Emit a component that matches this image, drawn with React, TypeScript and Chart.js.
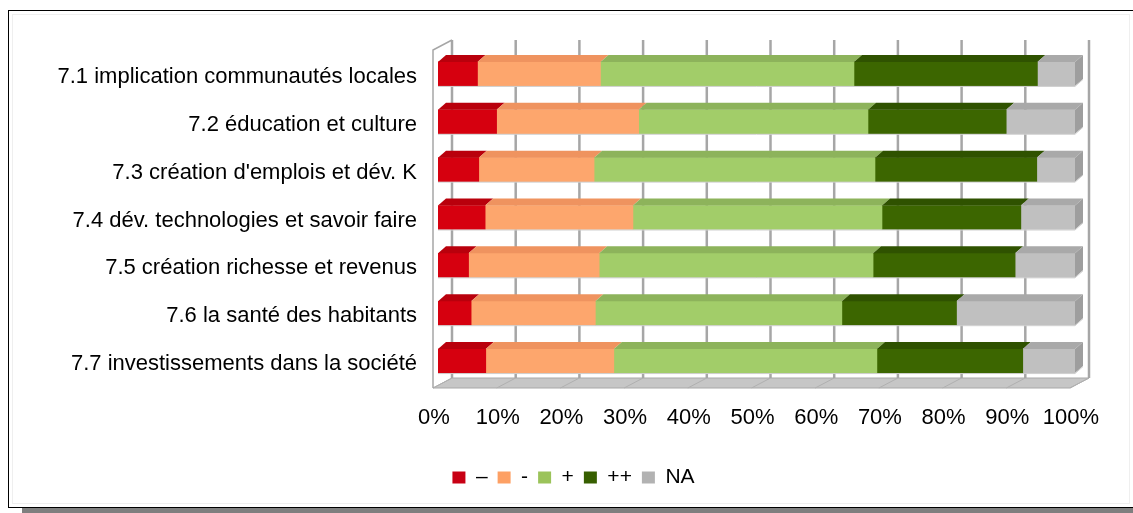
import React, { useEffect, useRef } from 'react';
import { Chart, registerables } from 'chart.js';

Chart.register(...registerables);

// ---------- data ----------
const CATEGORIES = [
  '7.1 implication communautés locales',
  '7.2 éducation et culture',
  "7.3 création d'emplois et dév. K",
  '7.4 dév. technologies et savoir faire',
  '7.5 création richesse et revenus',
  '7.6 la santé des habitants',
  '7.7 investissements dans la société',
];
const SERIES_NAMES = ['–', '-', '+', '++', 'NA'];
const VALUES_VERY_NEG = [6.2, 9.2, 6.4, 7.4, 4.8, 5.2, 7.5];
const VALUES_NEG = [19.3, 22.3, 18.1, 23.2, 20.5, 19.5, 20.1];
const VALUES_POS = [39.8, 36.0, 44.1, 39.1, 43.0, 38.7, 41.3];
const VALUES_VERY_POS = [28.8, 21.7, 25.4, 21.8, 22.3, 18.0, 22.9];
const VALUES_NA = [5.9, 10.8, 6.0, 8.5, 9.4, 18.6, 8.2];
const X_MIN = 0;
const X_MAX = 100;
const X_STEP = 10;

// ---------- styles ----------
const FRONT_COLORS = ['#d6000f', '#fda66d', '#a2cd69', '#3c6600', '#c0c0c0'];
const TOP_COLORS = ['#b9000c', '#ef935f', '#8db35b', '#2f5200', '#a9a9a9'];
const SIDE_COLOR = '#9e9e9e';
const LEGEND_COLORS = ['#c80014', '#fda064', '#9bc35a', '#375f00', '#b2b2b2'];
const FONT = 'Liberation Sans, Arial, sans-serif';

const BAR_DX = 8;
const BAR_DY = 7;
const BOX_FRONT_DX = -5;
const BOX_FRONT_DY = 3;
const BOX_BACK_DX = 14;
const BOX_BACK_DY = -7;
const LEGEND_SHIFT = 36;

const depthPlugin = {
  id: 'depth3d',
  afterLayout(chart: any) {
    if (chart.legend) {
      chart.legend.left += LEGEND_SHIFT;
      chart.legend.right += LEGEND_SHIFT;
    }
  },
  beforeDatasetsDraw(chart: any) {
    const { ctx, chartArea: ca, scales } = chart;
    const x = scales.x;
    const x0 = x.getPixelForValue(X_MIN);
    const x1 = x.getPixelForValue(X_MAX);
    const fy = ca.bottom + BOX_FRONT_DY;
    const by = ca.bottom + BOX_BACK_DY;
    ctx.save();
    // floor
    ctx.beginPath();
    ctx.moveTo(x0 + BOX_FRONT_DX, fy);
    ctx.lineTo(x1 + BOX_FRONT_DX, fy);
    ctx.lineTo(x1 + BOX_BACK_DX, by);
    ctx.lineTo(x0 + BOX_BACK_DX, by);
    ctx.closePath();
    ctx.fillStyle = '#c6c6c6';
    ctx.fill();
    ctx.strokeStyle = '#a8a8a8';
    ctx.lineWidth = 1;
    ctx.stroke();
    // floor diagonals
    ctx.strokeStyle = '#b0b0b0';
    x.ticks.forEach((t: any) => {
      const px = x.getPixelForValue(t.value);
      ctx.beginPath();
      ctx.moveTo(px + BOX_FRONT_DX, fy);
      ctx.lineTo(px + BOX_BACK_DX, by);
      ctx.stroke();
    });
    // back wall gridlines
    ctx.strokeStyle = '#a6a6a6';
    ctx.lineWidth = 2.5;
    const topBack = ca.top - 10;
    x.ticks.forEach((t: any) => {
      const px = x.getPixelForValue(t.value) + BOX_BACK_DX;
      ctx.beginPath();
      ctx.moveTo(px, topBack);
      ctx.lineTo(px, by);
      ctx.stroke();
    });
    // left wall edges
    ctx.lineWidth = 1.5;
    ctx.beginPath();
    ctx.moveTo(x0 + BOX_BACK_DX, topBack);
    ctx.lineTo(x0 + BOX_FRONT_DX, ca.top);
    ctx.lineTo(x0 + BOX_FRONT_DX, fy);
    ctx.stroke();
    ctx.restore();
  },
  afterDatasetsDraw(chart: any) {
    const { ctx } = chart;
    const n = chart.data.datasets.length;
    ctx.save();
    for (let d = 0; d < n; d++) {
      const meta = chart.getDatasetMeta(d);
      meta.data.forEach((el: any) => {
        const p = el.getProps(['x', 'y', 'base', 'height'], true);
        const left = Math.min(p.x, p.base);
        const right = Math.max(p.x, p.base);
        const top = p.y - p.height / 2;
        const bottom = p.y + p.height / 2;
        ctx.beginPath();
        ctx.moveTo(left, top);
        ctx.lineTo(right, top);
        ctx.lineTo(right + BAR_DX, top - BAR_DY);
        ctx.lineTo(left + BAR_DX, top - BAR_DY);
        ctx.closePath();
        ctx.fillStyle = TOP_COLORS[d];
        ctx.fill();
        if (d === n - 1) {
          ctx.beginPath();
          ctx.moveTo(right, top);
          ctx.lineTo(right + BAR_DX, top - BAR_DY);
          ctx.lineTo(right + BAR_DX, bottom - BAR_DY);
          ctx.lineTo(right, bottom);
          ctx.closePath();
          ctx.fillStyle = SIDE_COLOR;
          ctx.fill();
        }
      });
    }
    // thin rims under each full bar
    const first = chart.getDatasetMeta(0);
    const last = chart.getDatasetMeta(n - 1);
    ctx.strokeStyle = '#cfcfcf';
    ctx.lineWidth = 1;
    first.data.forEach((el: any, i: number) => {
      const p0 = el.getProps(['x', 'y', 'base', 'height'], true);
      const pl = last.data[i].getProps(['x', 'y', 'base', 'height'], true);
      const l = Math.min(p0.x, p0.base);
      const r = Math.max(pl.x, pl.base);
      const bottom = p0.y + p0.height / 2 + 0.5;
      ctx.beginPath();
      ctx.moveTo(l, bottom);
      ctx.lineTo(r, bottom);
      ctx.lineTo(r + BAR_DX, bottom - BAR_DY);
      ctx.stroke();
    });
    ctx.restore();
  },
};

export default function App() {
  const ref = useRef<HTMLCanvasElement | null>(null);

  useEffect(() => {
    if (!ref.current) return;
    const seriesValues = [VALUES_VERY_NEG, VALUES_NEG, VALUES_POS, VALUES_VERY_POS, VALUES_NA];
    const chart = new Chart(ref.current, {
      type: 'bar',
      data: {
        labels: CATEGORIES,
        datasets: seriesValues.map((vals, i) => ({
          label: SERIES_NAMES[i],
          data: vals,
          backgroundColor: FRONT_COLORS[i],
          borderWidth: 0,
          barThickness: 24,
        })),
      },
      plugins: [depthPlugin],
      options: {
        indexAxis: 'y',
        responsive: false,
        animation: false,
        events: [],
        font: { family: FONT },
        layout: { padding: { top: 50, right: 58, bottom: 15, left: 0 } },
        scales: {
          x: {
            stacked: true,
            min: X_MIN,
            max: X_MAX,
            grid: { display: false, drawTicks: false },
            border: { display: false },
            ticks: {
              stepSize: X_STEP,
              padding: 20,
              labelOffset: -4,
              color: '#000',
              font: { size: 22, family: FONT },
              maxRotation: 0,
              callback: (v: any) => `${v}%`,
            },
            afterFit: (scale: any) => {
              scale.height = 72;
            },
          },
          y: {
            stacked: true,
            grid: { display: false, drawTicks: false },
            border: { display: false },
            ticks: {
              padding: 21,
              labelOffset: 3,
              color: '#000',
              font: { size: 22, family: FONT },
            },
            afterFit: (scale: any) => {
              scale.width = 438;
            },
          },
        },
        plugins: {
          tooltip: { enabled: false },
          legend: {
            position: 'bottom',
            labels: {
              boxWidth: 13,
              boxHeight: 12,
              padding: 10,
              color: '#000',
              font: { size: 21, family: FONT },
              generateLabels: (c: any) => {
                const items = (Chart as any).defaults.plugins.legend.labels.generateLabels(c);
                return items.map((it: any, i: number) => ({
                  ...it,
                  fillStyle: LEGEND_COLORS[i],
                  strokeStyle: LEGEND_COLORS[i],
                  lineWidth: 0,
                }));
              },
            },
          },
        },
      } as any,
    });
    return () => chart.destroy();
  }, []);

  return (
    <div
      style={{
        position: 'absolute',
        left: 0,
        top: 0,
        width: 1133,
        height: 513,
        overflow: 'hidden',
        background: '#fff',
      }}
    >
      <div
        style={{
          position: 'absolute',
          left: 8,
          top: 10,
          width: 1200,
          height: 496,
          border: '1px solid #000',
        }}
      />
      <div
        style={{
          position: 'absolute',
          left: 12,
          top: 14,
          width: 1116,
          height: 488,
          border: '1px solid #efefef',
        }}
      />
      <div
        style={{
          position: 'absolute',
          left: 22,
          top: 508,
          width: 1200,
          height: 6,
          background: '#7f7f7f',
        }}
      />
      <canvas
        ref={ref}
        width={1133}
        height={513}
        style={{ position: 'absolute', left: 0, top: 0, width: 1133, height: 513, display: 'block' }}
      />
    </div>
  );
}
